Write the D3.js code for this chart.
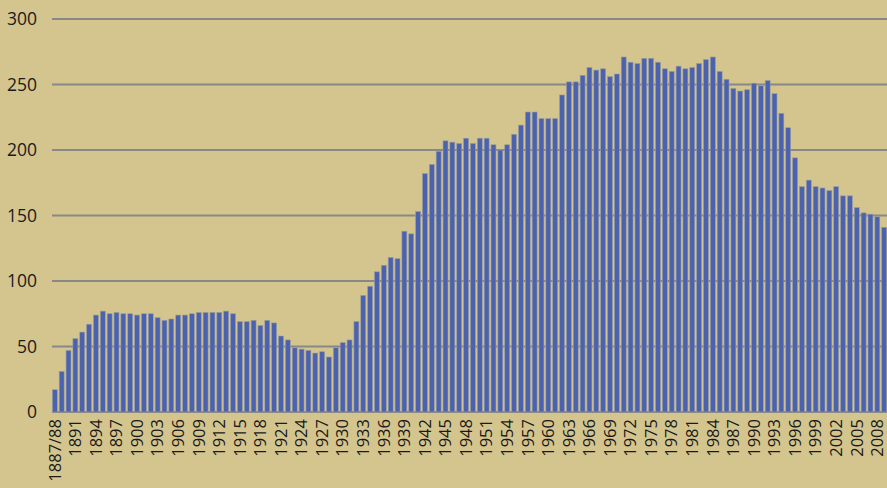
<!DOCTYPE html>
<html>
<head>
<meta charset="utf-8">
<script src="https://cdn.jsdelivr.net/npm/d3@7"></script>
<style>
  body { margin: 0; background: #d4c58e; }
  svg { display: block; font-family: "Open Sans", sans-serif; }
</style>
</head>
<body>
<svg width="887" height="488"></svg>
<script>
var years = ["1887/88"];
for (var yr = 1889; yr <= 2009; yr++) years.push(String(yr));

var values = [
  17, 31, 47, 56, 61, 67, 74, 77, 75, 76,
  75, 75, 74, 75, 75, 72, 70, 71, 74, 74,
  75, 76, 76, 76, 76, 77, 75, 69, 69, 70,
  66, 70, 68, 58, 55, 49, 48, 47, 45, 46,
  42, 49, 53, 55, 69, 89, 96, 107, 112, 118,
  117, 138, 136, 153, 182, 189, 199, 207, 206, 205,
  209, 205, 209, 209, 204, 200, 204, 212, 219, 229,
  229, 224, 224, 224, 242, 252, 252, 257, 263, 261,
  262, 256, 258, 271, 267, 266, 270, 270, 267, 262,
  260, 264, 262, 263, 266, 269, 271, 260, 254, 247,
  245, 246, 251, 249, 253, 243, 228, 217, 194, 172,
  177, 172, 171, 169, 172, 165, 165, 156, 152, 151,
  149, 141
];

var yTicks = [0, 50, 100, 150, 200, 250, 300];

var data = years.map(function(d, i) { return {year: d, value: values[i]}; });

var svg = d3.select("svg"),
    margin = {top: 19, right: 0, bottom: 76, left: 52},
    width = svg.attr("width") - margin.left - margin.right,
    height = svg.attr("height") - margin.top - margin.bottom;

var x = d3.scaleBand().range([0, width]).paddingInner(0.28).paddingOuter(0.05),
    y = d3.scaleLinear().domain([0, 300]).range([height, 0]);

x.domain(years);

var g = svg.append("g")
    .attr("transform", "translate(" + margin.left + "," + margin.top + ")");

// gridlines
g.selectAll(".grid")
  .data(yTicks)
  .enter().append("line")
    .attr("x1", 0)
    .attr("x2", width)
    .attr("y1", function(d) { return y(d); })
    .attr("y2", function(d) { return y(d); })
    .attr("stroke", "#888888")
    .attr("stroke-width", 2);

// y labels
g.selectAll(".ylab")
  .data(yTicks)
  .enter().append("text")
    .attr("x", -15)
    .attr("y", function(d) { return y(d); })
    .attr("dy", "0.35em")
    .attr("text-anchor", "end")
    .attr("font-size", 17.5)
    .attr("fill", "#1a1a1a")
    .text(function(d) { return d; });

// bars
g.selectAll(".bar")
  .data(data)
  .enter().append("rect")
    .attr("x", function(d) { return x(d.year); })
    .attr("width", x.bandwidth())
    .attr("y", function(d) { return y(d.value); })
    .attr("height", function(d) { return height - y(d.value); })
    .attr("fill", "#4a62b0")
    .attr("stroke", "#9a9c9e")
    .attr("stroke-width", 0.6);

// x labels, every third year
g.selectAll(".xlab")
  .data(data.filter(function(d, i) { return i % 3 === 0; }))
  .enter().append("text")
    .attr("transform", function(d) {
      return "translate(" + (x(d.year) + x.bandwidth() / 2) + "," + (height + 7) + ") rotate(-90)";
    })
    .attr("dy", "0.35em")
    .attr("text-anchor", "end")
    .attr("font-size", 16.5)
    .attr("fill", "#1a1a1a")
    .text(function(d) { return d.year; });
</script>
</body>
</html>
